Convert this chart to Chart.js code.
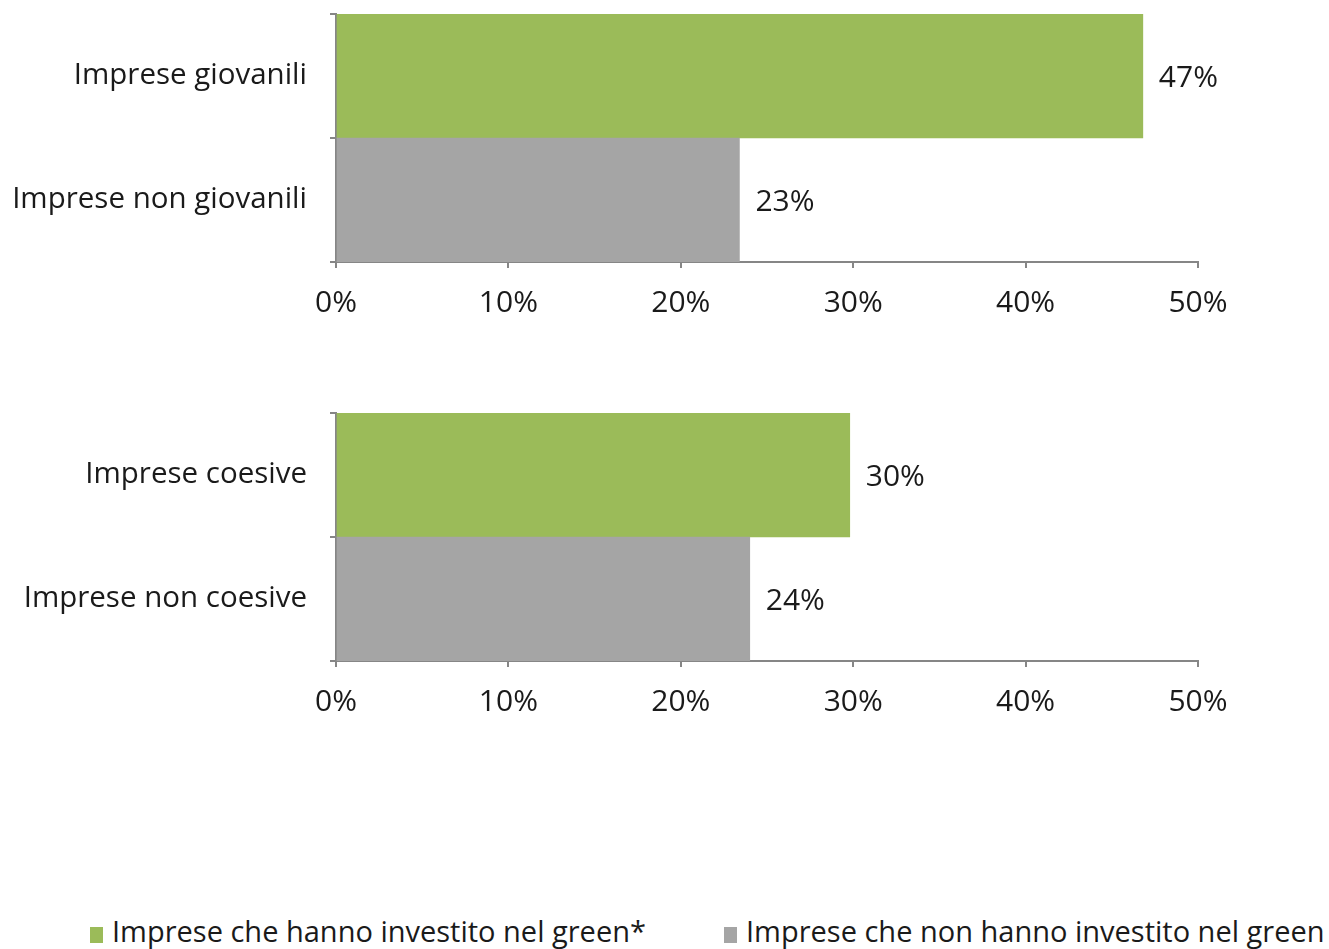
<!DOCTYPE html>
<html>
<head>
<meta charset="utf-8">
<script src="https://cdn.jsdelivr.net/npm/chart.js@4"></script>
<style>
  body { margin: 0; background: #fff; width: 1329px; height: 949px; position: relative; overflow: hidden; font-family: "Open Sans", sans-serif; }
  .box { position: absolute; left: 0; width: 1329px; height: 340px; }
  #legend { position: absolute; top: 912px; left: 0; width: 1329px; height: 37px; font-size: 29px; color: #1a1a1a; }
  #legend span { position: absolute; top: 0; line-height: 37px; white-space: nowrap; }
  #legend i { display: inline-block; width: 13px; height: 16px; margin-right: 9px; vertical-align: -1px; }
</style>
</head>
<body>
<div class="box" style="top:0px"><canvas id="chartAge"></canvas></div>
<div class="box" style="top:399px"><canvas id="chartCohesion"></canvas></div>
<div id="legend">
  <span style="left:90px"><i style="background:#9bbb59"></i>Imprese che hanno investito nel green*</span>
  <span style="left:724px"><i style="background:#a5a5a5"></i>Imprese che non hanno investito nel green</span>
</div>
<script>
// values (percent)
const ageLabels = ["Imprese giovanili", "Imprese non giovanili"];
const ageValues = [46.8, 23.4];
const cohesionLabels = ["Imprese coesive", "Imprese non coesive"];
const cohesionValues = [29.8, 24.0];
const xTicks = [0, 10, 20, 30, 40, 50];

const green = "#9bbb59";
const gray = "#a5a5a5";
const axisColor = "#868686";
const textColor = "#1a1a1a";
const fontFamily = "'Open Sans', sans-serif";

const valueLabels = {
    id: "valueLabels",
    afterDatasetsDraw(chart) {
        const ctx = chart.ctx;
        const meta = chart.getDatasetMeta(0);
        const values = chart.data.datasets[0].data;
        ctx.save();
        ctx.font = "30px " + fontFamily;
        ctx.fillStyle = textColor;
        ctx.textAlign = "left";
        ctx.textBaseline = "middle";
        meta.data.forEach((bar, i) => {
            ctx.fillText(Math.round(values[i]) + "%", bar.x + 16, bar.y + 2);
        });
        ctx.restore();
    }
};

function makeChart(id, labels, values) {
    return new Chart(document.getElementById(id), {
        type: "bar",
        data: {
            labels: labels,
            datasets: [{
                data: values,
                backgroundColor: [green, gray],
                barPercentage: 1,
                categoryPercentage: 1
            }]
        },
        options: {
            indexAxis: "y",
            responsive: true,
            maintainAspectRatio: false,
            animation: false,
            layout: { padding: { top: 14, left: 0, right: 131, bottom: 0 } },
            plugins: { legend: { display: false }, tooltip: { enabled: false } },
            scales: {
                x: {
                    min: 0,
                    max: 50,
                    afterBuildTicks: scale => { scale.ticks = xTicks.map(v => ({ value: v })); },
                    afterFit: scale => { scale.height = 78; },
                    grid: { drawOnChartArea: false, color: axisColor, lineWidth: 2, tickLength: 6 },
                    border: { color: axisColor, width: 2 },
                    ticks: {
                        callback: v => v + "%",
                        color: textColor,
                        padding: 17,
                        maxRotation: 0,
                        font: { family: fontFamily, size: 30 }
                    }
                },
                y: {
                    afterFit: scale => {
                        scale.width = 336;
                        scale.paddingTop = 0;
                        scale.paddingBottom = 0;
                    },
                    grid: { drawOnChartArea: false, color: axisColor, lineWidth: 2, tickLength: 6 },
                    border: { color: axisColor, width: 2 },
                    ticks: {
                        color: textColor,
                        padding: 23,
                        font: { family: fontFamily, size: 29.5 }
                    }
                }
            }
        },
        plugins: [valueLabels]
    });
}

makeChart("chartAge", ageLabels, ageValues);
makeChart("chartCohesion", cohesionLabels, cohesionValues);
</script>
</body>
</html>
